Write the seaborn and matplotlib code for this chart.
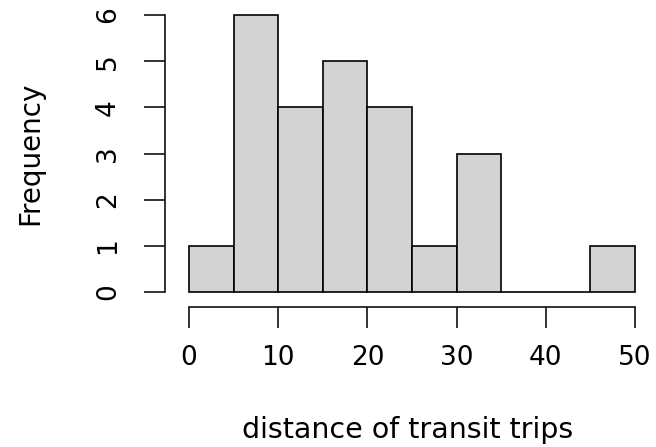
import matplotlib
matplotlib.use("Agg")
import matplotlib.pyplot as plt
import seaborn as sns

sns.set_style("ticks")
plt.rcParams['font.family'] = ['DejaVu Sans']
plt.rcParams['text.color'] = 'black'
plt.rcParams['axes.labelcolor'] = 'black'
plt.rcParams['xtick.color'] = 'black'
plt.rcParams['ytick.color'] = 'black'

# histogram of transit trip distances (bin edges and counts)
bin_edges = [0, 5, 10, 15, 20, 25, 30, 35, 40, 45, 50]
bin_mids = [2.5, 7.5, 12.5, 17.5, 22.5, 27.5, 32.5, 37.5, 42.5, 47.5]
counts = [1, 6, 4, 5, 4, 1, 3, 0, 0, 1]
x_ticks = [0, 10, 20, 30, 40, 50]
y_ticks = [0, 1, 2, 3, 4, 5, 6]

fig = plt.figure(figsize=(6.56, 4.47), dpi=100)
ax = fig.add_axes([189 / 656, 1 - 292 / 447, 446 / 656, 277 / 447])

sns.histplot(x=bin_mids, weights=counts, bins=bin_edges, color="#D3D3D3",
             edgecolor="black", linewidth=1.2, alpha=1, ax=ax)
for p in ax.patches:
    p.set_clip_on(False)

ax.set_xlim(0, 50)
ax.set_ylim(0, 6)
ax.set_xticks(x_ticks)
ax.set_yticks(y_ticks)

for side in ["top", "right"]:
    ax.spines[side].set_visible(False)
ax.spines["left"].set_position(("outward", 17))
ax.spines["bottom"].set_position(("outward", 11))
for side in ["left", "bottom"]:
    ax.spines[side].set_linewidth(1.2)
    ax.spines[side].set_color("#111111")

ax.tick_params(axis="both", length=15, width=1.2, color="#111111", labelsize=19)
ax.tick_params(axis="y", pad=17, labelrotation=90)
ax.tick_params(axis="x", pad=12)
for lab in ax.get_yticklabels():
    lab.set_va("center")

ax.set_xlabel("distance of transit trips", fontsize=20.5)
ax.set_ylabel("Frequency", fontsize=20)
ax.xaxis.set_label_coords(0.49, -0.50)
ax.yaxis.set_label_coords(-0.3565, 0.5)
ax.xaxis.label.set_va("center")
ax.yaxis.label.set_va("center")

fig.savefig("out.png", dpi=100)
